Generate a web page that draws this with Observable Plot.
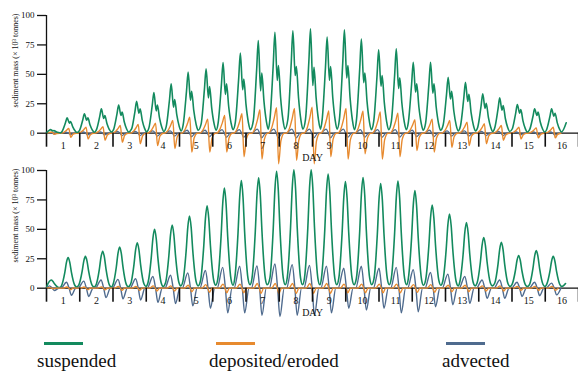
<!DOCTYPE html>
<html><head><meta charset="utf-8">
<script src="https://cdn.jsdelivr.net/npm/d3@7"></script>
<script src="https://cdn.jsdelivr.net/npm/@observablehq/plot@0.6"></script>
<style>
body{margin:0;background:#fff;width:578px;height:372px;position:relative;overflow:hidden;font-family:"Liberation Serif","Times New Roman",serif;}
#top,#bot{position:absolute;left:0;}
#top{top:0px}
#bot{top:154.5px}
.sw{position:absolute;height:3px;width:39px;top:342.2px;}
.lab{position:absolute;top:350.5px;font-size:19px;line-height:19px;color:#111;white-space:nowrap;}
</style></head>
<body>
<div id="top"></div>
<div id="bot"></div>
<div id="legend"></div>
<script>
// ---------- data ----------
const dayTicks = [0,1,2,3,4,5,6,7,8,9,10,11,12,13,14,15,16];
const dayLabels = ["1","2","3","4","5","6","7","8","9","10","11","12","13","14","15","16"];
const yTicks = [0,25,50,75,100];
const seriesNames = ["suspended","deposited/eroded","advected"];
const seriesColors = ["#138a5e","#e78a2f","#4f6b8e"];

// top panel: tidal cycle peak times (days) and values (x10^3 tonnes)
const topDay = [0.12,0.62,1.14,1.65,2.17,2.71,3.23,3.75,4.26,4.80,5.31,5.83,6.37,6.87,7.41,7.94,8.44,8.96,9.47,9.99,10.52,11.03,11.55,12.08,12.60,13.12,13.63,14.16,14.68,15.19];
const topSusPeak = [3,13,16.5,20.7,24,27,34.6,42,52,54.7,60,68,78.8,85.8,87,88.7,81.6,87.8,80,70.8,71.7,60.3,60.3,47.6,43.3,33.5,30,24.4,20.7,20.7];
const topSusNotch = [2,8.5,11,12.5,15,17,19,22,28,30,33,37,36,44.8,49,40.5,45,47,43,40,38,35,34,29,27,21,19.5,17,15,14.5];
const topSusSecond = [2.2,10,13,15,18,20.7,24,28.6,35.7,39.7,42,46,51,57.5,56.7,56,56.7,57.5,51,49,47,42,42,35.7,33,25.5,23.5,20,18,17];
const topSusTrough = [0.3,0.6,0.8,1,1,1.2,1.5,2,2.5,2.5,3,3,3.5,3.5,3.5,3.5,3.5,3,3,3,3,2.5,2.5,2,2,1.5,1.5,1,1,1];
const topSusStart = 0.3, topSusEndDay = 15.63, topSusEnd = 8.8;
const topDepPos = [1,4,5,5.5,6.5,7.4,8.5,10.8,13.6,12,15,16.5,20,21.6,21,22,19,21,18.7,18,17,11.4,12,10.8,9.4,8,6.5,5,4.5,5];
const topDepNeg = [-1,-3.4,-5,-6,-7.6,-9,-10.5,-13,-16,-16,-16,-20,-22,-26,-23,-26,-20,-22,-17.5,-22,-20,-14.7,-16,-12,-10.5,-9,-6,-5,-4,-4];
const topAdvPos = [0.3,0.8,1,1.2,1.5,1.5,2,2,2.5,2.5,3,3,3.5,3.5,3.5,3.5,3.5,3.5,3,3,3,2.5,2.5,2,2,1.5,1.5,1,1,1];
const topAdvNeg = [-0.5,-1,-1.5,-1.5,-2,-2,-2.5,-2.5,-3,-3,-3.5,-3.5,-4,-4,-4,-4,-4,-3.5,-3.5,-3.5,-3.5,-3,-3,-2.5,-2.5,-2,-2,-1.5,-1.5,-1.5];

// bottom panel
const botDay = [0.14,0.65,1.17,1.69,2.20,2.73,3.25,3.78,4.30,4.83,5.35,5.86,6.38,6.92,7.44,7.96,8.47,8.99,9.52,10.05,10.57,11.08,11.60,12.12,12.63,13.15,13.68,14.20,14.73,15.24];
const botSusPeak = [7,26,27,31.4,35,38.6,50,53.7,61.4,70,85,91.4,93.7,99.4,100.6,100.6,97,90.6,94,89,91,83,70.6,63,55.7,43,39,27.7,32,27];
const botSusTrough = [0.5,1,1,1,1.2,1.5,1.5,2,2,2.5,2.5,3,3,3,3,3,3,3,3,3,3,2.5,2.5,2,2,2,1.5,1.5,1.5,1.5];
const botSusStart = 0.4, botSusEndDay = 15.61, botSusEnd = 4;
const botAdvPos = [2,5,6,7,7.5,8,10,11,13,15,17.7,18.6,19,20.6,20,19.4,18.6,17,18.6,17,17.7,15.7,13.4,12,10,7,7,5,5,4.3];
const botAdvNeg = [-2,-6,-7,-8,-9,-10,-12,-13,-15,-17,-21,-21,-23,-24,-23,-23,-21,-17,-18.5,-17,-21,-20,-15.7,-14,-12.9,-8.6,-8.6,-7,-6.3,-5.7];
const botDepPos = [0.5,1,1,1.2,1.5,1.5,2,2,2.5,3,3.5,3.5,4,4,4,4,4,3.5,3.5,3.5,3.5,3,3,2.5,2.5,2,2,1.5,1.5,1.5];
const botDepNeg = [-0.5,-1.2,-1.2,-1.5,-1.8,-1.8,-2.4,-2.4,-3,-3.6,-4,-4,-4.5,-4.5,-4.5,-4.5,-4.5,-4,-4,-4,-4,-3.6,-3.6,-3,-3,-2.4,-2.4,-1.8,-1.8,-1.8];

const yLabel = "sediment mass (× 10³ tonnes)";

// ---------- build line tables (shape of each tidal cycle) ----------
function clean(pts){ return pts.filter(p => p.day >= 0 && p.day <= 16); }

function topSuspended(){
  const pts = [{day:0, v:topSusStart}];
  let prev = topSusStart;
  topDay.forEach((tp,i)=>{
    const P = topSusPeak[i], N = topSusNotch[i], S = topSusSecond[i], T = topSusTrough[i];
    pts.push({day:tp-0.15, v:prev+0.1*(P-prev)});
    pts.push({day:tp-0.05, v:prev+0.67*(P-prev)});
    pts.push({day:tp, v:P});
    pts.push({day:tp+0.07, v:N});
    pts.push({day:tp+0.105, v:S});
    pts.push({day:tp+0.17, v:T+0.5*(S-T)});
    pts.push({day:tp+0.24, v:T+0.15*(S-T)});
    pts.push({day:tp+0.3, v:T});
    prev = T;
  });
  pts.push({day:topSusEndDay, v:topSusEnd});
  return clean(pts);
}
function topDeposited(){
  const pts = [{day:0, v:0}];
  topDay.forEach((tp,i)=>{
    const P = topDepPos[i], N = topDepNeg[i];
    pts.push({day:tp-0.2, v:0});
    pts.push({day:tp-0.1, v:0.2*P});
    pts.push({day:tp-0.02, v:0.6*P});
    pts.push({day:tp+0.05, v:P});
    pts.push({day:tp+0.11, v:N});
    pts.push({day:tp+0.18, v:0.25*N});
    pts.push({day:tp+0.28, v:0});
  });
  return clean(pts);
}
function topAdvected(){
  const pts = [{day:0, v:0}];
  topDay.forEach((tp,i)=>{
    pts.push({day:tp-0.2, v:0});
    pts.push({day:tp-0.03, v:topAdvPos[i]});
    pts.push({day:tp+0.04, v:0});
    pts.push({day:tp+0.1, v:topAdvNeg[i]});
    pts.push({day:tp+0.22, v:0});
  });
  return clean(pts);
}
function botSuspended(){
  const pts = [{day:0, v:botSusStart}];
  let prev = botSusStart;
  botDay.forEach((tp,i)=>{
    const P = botSusPeak[i], T = botSusTrough[i];
    pts.push({day:tp-0.2, v:prev+0.06*(P-prev)});
    pts.push({day:tp-0.1, v:prev+0.5*(P-prev)});
    pts.push({day:tp-0.05, v:prev+0.84*(P-prev)});
    pts.push({day:tp, v:P});
    pts.push({day:tp+0.05, v:T+0.84*(P-T)});
    pts.push({day:tp+0.1, v:T+0.5*(P-T)});
    pts.push({day:tp+0.2, v:T+0.06*(P-T)});
    pts.push({day:tp+0.26, v:T});
    prev = T;
  });
  pts.push({day:botSusEndDay, v:botSusEnd});
  return clean(pts);
}
function botAdvected(){
  const pts = [{day:0, v:0}];
  botDay.forEach((tp,i)=>{
    pts.push({day:tp-0.22, v:0});
    pts.push({day:tp-0.05, v:botAdvPos[i]});
    pts.push({day:tp+0.03, v:0});
    pts.push({day:tp+0.1, v:botAdvNeg[i]});
    pts.push({day:tp+0.23, v:0});
  });
  return clean(pts);
}
function botDeposited(){
  const pts = [{day:0, v:0}];
  botDay.forEach((tp,i)=>{
    pts.push({day:tp-0.15, v:0});
    pts.push({day:tp-0.04, v:botDepPos[i]});
    pts.push({day:tp+0.02, v:0});
    pts.push({day:tp+0.07, v:botDepNeg[i]});
    pts.push({day:tp+0.15, v:0});
  });
  return clean(pts);
}

function line(data, ci, w){
  return Plot.line(data, {x:"day", y:"v", stroke:seriesColors[ci], strokeWidth:w, curve:"monotone-x"});
}

function panel(lines){
  return Plot.plot({
    width:578, height:168,
    marginLeft:46, marginRight:0, marginTop:15, marginBottom:35.3,
    x:{domain:[0,16]},
    y:{domain:[0,100]},
    style:{fontFamily:"'Liberation Serif','Times New Roman',serif", background:"transparent", overflow:"visible", color:"#111"},
    marks:[
      Plot.ruleY([0], {stroke:"#111", strokeWidth:1.3}),
      Plot.ruleX([0], {y1:0, y2:100, stroke:"#111", strokeWidth:1.3}),
      Plot.axisY({ticks:yTicks, tickSize:9, tickPadding:3, fontSize:9, label:null, tickFormat:d=>String(d), strokeWidth:1.3}),
      ...lines,
      Plot.axisX({ticks:dayTicks, tickSize:14, tickFormat:()=> "", label:null, strokeWidth:1.6}),
      Plot.axisX({ticks:dayTicks.slice(0,16).map(d=>d+0.5), tickSize:0, tickPadding:9, fontSize:10, label:null, tickFormat:d=>dayLabels[Math.floor(d)]}),
      Plot.text(["DAY"], {frameAnchor:"bottom", dy:27.5, fontSize:10}),
      Plot.text([yLabel], {frameAnchor:"top-left", rotate:-90, textAnchor:"end", dx:-34, dy:-2, fontSize:8})
    ]
  });
}

document.getElementById("top").append(panel([
  line(topAdvected(), 2, 1.3),
  line(topDeposited(), 1, 1.4),
  line(topSuspended(), 0, 1.6)
]));
document.getElementById("bot").append(panel([
  line(botSuspended(), 0, 1.6),
  line(botAdvected(), 2, 1.4),
  line(botDeposited(), 1, 1.3)
]));

// legend
const legPos = [{sw:44, tx:37},{sw:216, tx:209},{sw:446, tx:442}];
const leg = document.getElementById("legend");
seriesNames.forEach((n,i)=>{
  const s = document.createElement("div"); s.className="sw"; s.style.left=legPos[i].sw+"px"; s.style.background=seriesColors[i]; leg.append(s);
  const t = document.createElement("div"); t.className="lab"; t.style.left=legPos[i].tx+"px"; t.textContent=n; leg.append(t);
});
</script>
</body></html>
